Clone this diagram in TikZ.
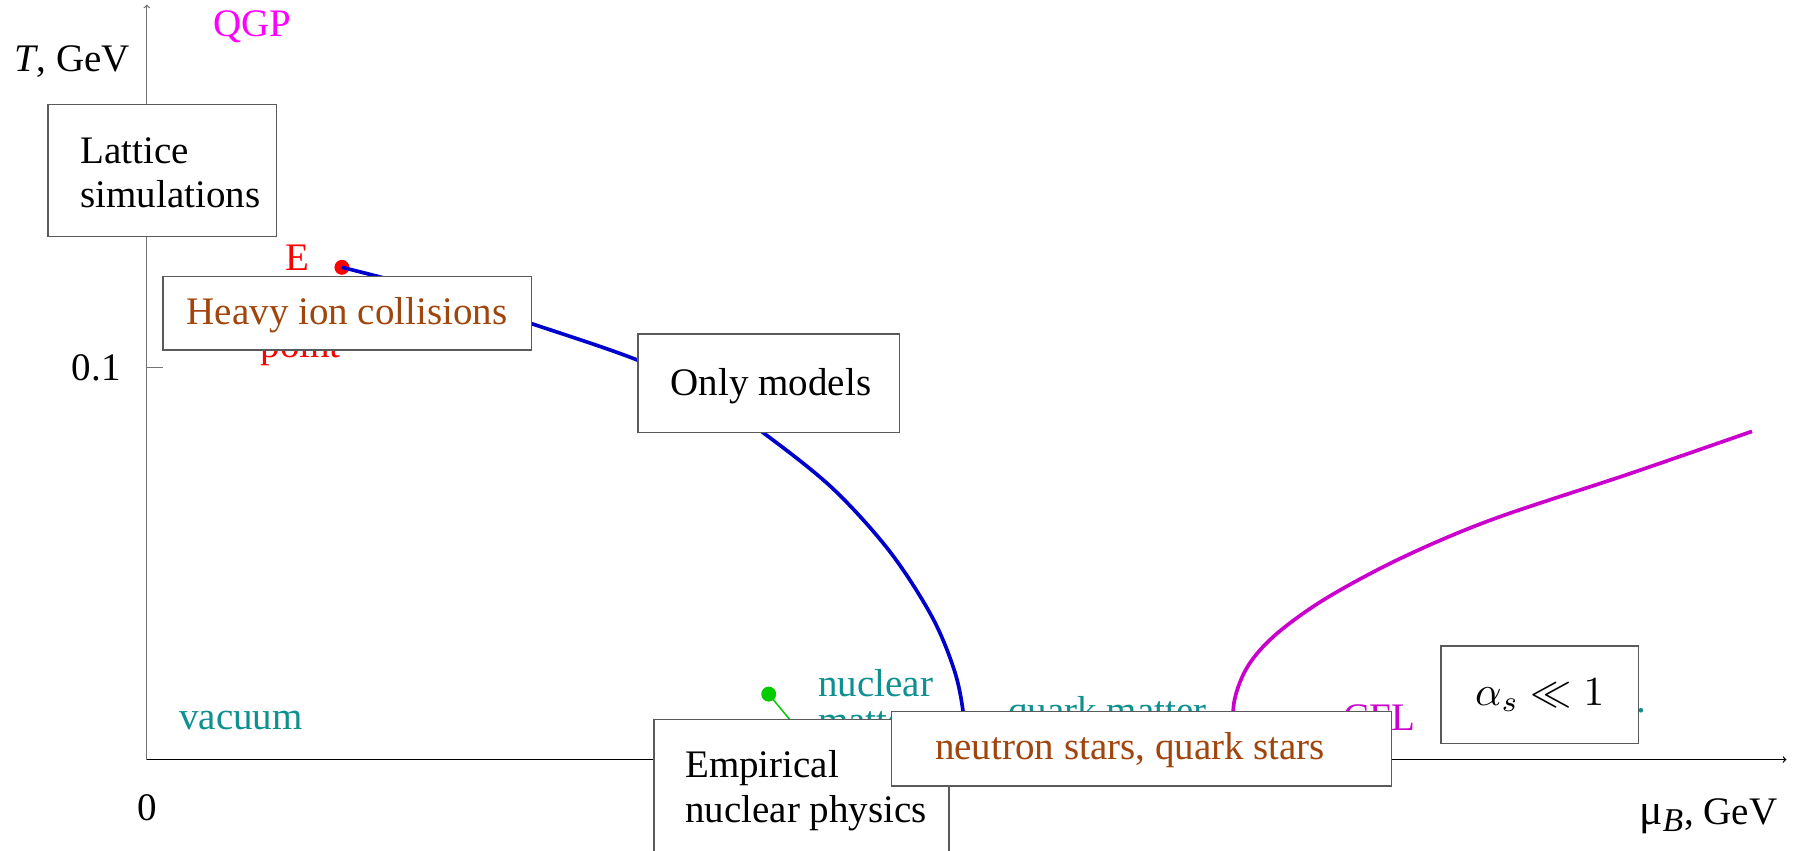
\documentclass[tikz,border=0pt]{standalone}
\usepackage{fontspec}
\setmainfont{Liberation Serif}
\definecolor{tealc}{RGB}{14,144,144}
\definecolor{magc}{RGB}{255,0,255}
\definecolor{magcurve}{RGB}{204,0,204}
\definecolor{brownc}{RGB}{160,69,13}
\definecolor{bluec}{RGB}{0,0,204}
\definecolor{greenc}{RGB}{0,204,0}
\definecolor{boxgray}{RGB}{90,90,90}
\begin{document}
\begin{tikzpicture}[x=1pt,y=-1pt,
  lbl/.style={font=\fontsize{34}{39}\selectfont, inner sep=0pt},
  box/.style={draw=boxgray, fill=white, line width=1.2pt, inner sep=0pt},
  curveline/.style={line width=3.2pt, line join=round},
  axisline/.style={line width=1.1pt, ->, >=to}
]
\useasboundingbox (0,0) rectangle (1568,741);
% axes
\coordinate (origin) at (128,662);
\coordinate (ytop) at (128,4);
\coordinate (xend) at (1557,662);
\coordinate (tickend) at (142,320);
\coordinate (tickstart) at (128,320);
\draw[axisline, draw=black!55] (origin) -- (ytop);
\draw[axisline] (origin) -- (xend);
\draw[line width=1.1pt, black!55] (tickstart) -- (tickend);
\node[lbl, anchor=base] (tlabel) at (63,62) {\textit{T}, GeV};
\node[lbl, anchor=base] (tick01) at (84,332) {0.1};
\node[lbl, anchor=base] (zero) at (128,715) {0};
\node[lbl, anchor=base] (mulabel) at (1489,719) {{\fontsize{38}{38}\selectfont μ}\raisebox{-6pt}{\fontsize{29}{29}\selectfont\itshape B}\kern1pt, GeV};
\node[lbl, anchor=base, text=magc] (qgp) at (220,32) {QGP};
% curves
\fill[red] (298,233) circle (6.5) coordinate (E);
\draw[curveline, bluec] plot[smooth, tension=0.55] coordinates {(298,233) (370,252) (463,282) (556,314) (615,343) (665,377) (725,425) (775,480) (812,537) (832,585) (840,625) (841,662)};
\draw[curveline, magcurve] plot[smooth, tension=0.55] coordinates {(1074,645) (1076,610) (1088,580) (1112,553) (1155,522) (1220,487) (1300,453) (1420,413) (1527,376)};
\coordinate (G) at (670,605);
\coordinate (Gend) at (694,634);
\draw[line width=1.3pt, greenc] (G) -- (Gend);
\fill[greenc] (G) circle (6.5);
% labels
\node[lbl, anchor=base, text=red] (elabel) at (259,236) {E};
\node[lbl, anchor=base, text=red] (pointlabel) at (262,312) {point};
\node[lbl, anchor=base, text=tealc] (vacuum) at (210,636) {vacuum};
\node[lbl, anchor=base west, text=tealc] (nuclear) at (713,607) {nuclear};
\node[lbl, anchor=base west, text=tealc] (matter) at (713,639) {matter};
\node[lbl, anchor=base, text=tealc] (quarkmatter) at (965,631) {quark matter};
\node[lbl, anchor=base, text=magcurve] (cfl) at (1202,637) {CFL};
\node[lbl, anchor=base, text=tealc] (dot) at (1431,621) {.};
% boxes
\node[box, minimum width=199pt, minimum height=115pt] (lattice) at (141.5,148.5) {};
\node[lbl, anchor=west, align=left] (latticetxt) at (70,150.5) {Lattice\\simulations};
\node[box, minimum width=321pt, minimum height=64pt] (heavy) at (302.5,273) {};
\node[lbl, text=brownc] (heavytxt) at (302.5,275) {Heavy ion collisions};
\node[box, minimum width=228pt, minimum height=86pt] (only) at (670,334) {};
\node[lbl] (onlytxt) at (672,337) {Only models};
\node[box, minimum width=257pt, minimum height=121pt] (emp) at (698.5,687.5) {};
\node[lbl, anchor=west, align=left] (emptxt) at (597,689) {Empirical\\nuclear physics};
\node[box, minimum width=436pt, minimum height=65pt] (neutron) at (995,652.5) {};
\node[lbl, text=brownc] (neutrontxt) at (985,654) {neutron stars, quark stars};
\node[box, minimum width=172pt, minimum height=85pt] (alpha) at (1342,605.5) {};
\node[inner sep=0pt] (alphatxt) at (1342,606) {\scalebox{3.6}{$\alpha_s \ll 1$}};
\end{tikzpicture}
\end{document}
